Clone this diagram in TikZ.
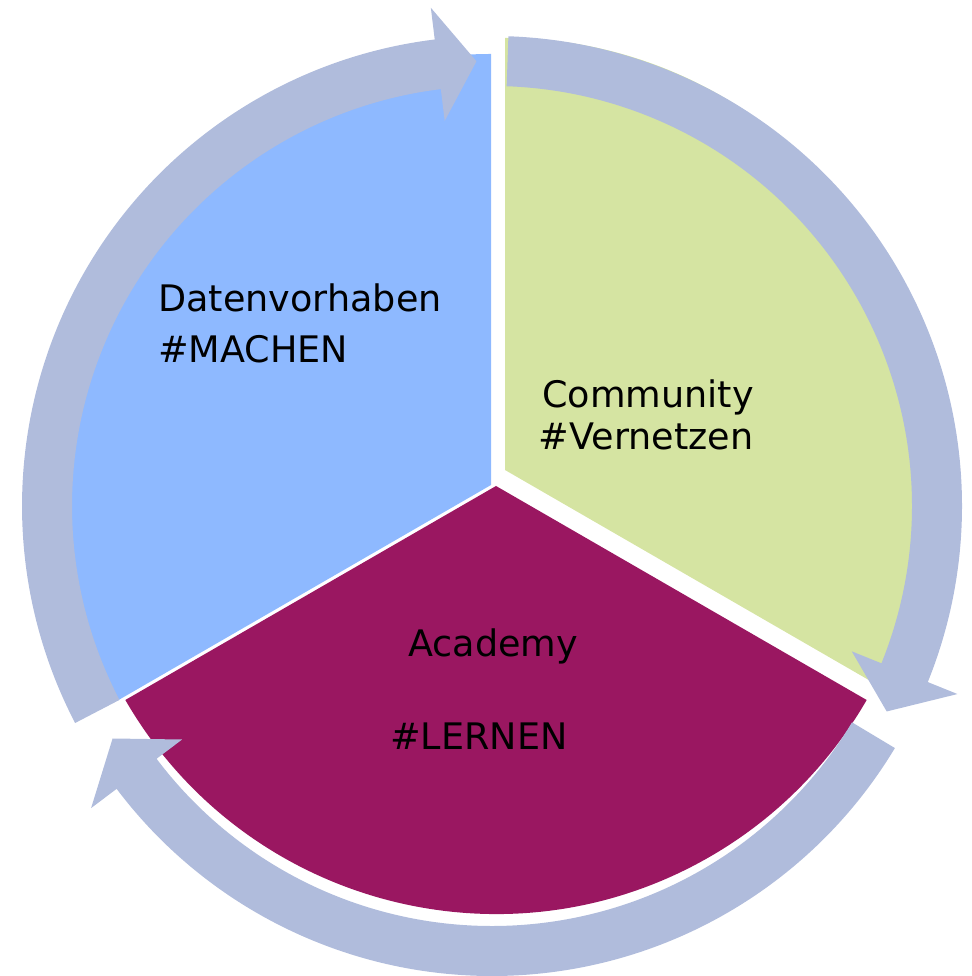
\documentclass[tikz,border=0pt]{standalone}
\usepackage{fontspec}
\setmainfont{DejaVu Sans}
\usepackage{xcolor}
\usepackage{tikz}
\definecolor{machenblue}{RGB}{142,185,255}
\definecolor{vernetzengreen}{RGB}{213,228,162}
\definecolor{lernenred}{RGB}{154,23,97}
\definecolor{ringblue}{RGB}{176,188,220}

\begin{document}
\begin{tikzpicture}[
			     x=0.02cm, y=0.02cm,
			     label text/.style={font=\fontsize{20.8}{25}\selectfont, text=black, inner sep=0pt},
			     cycle arrow/.style={fill=ringblue}
			     ]
\useasboundingbox (0,0) rectangle (971,976);
% sectors
\fill[machenblue] (491,491) -- ++(90:431) arc[start angle=90, end angle=210, radius=431] -- cycle;
\fill[lernenred] (496,490) -- ++(210:428) arc[start angle=210, end angle=330, radius=428] -- cycle;
\fill[vernetzengreen] (505,506) -- ++(90:432) arc[start angle=90, end angle=-30, radius=432] -- cycle;
% arrows
\begin{scope}[shift={(492,470)}]
\fill[cycle arrow] (207.5:470) arc[start angle=207.5, end angle=97, radius=470] -- (97:502) -- (92:445) -- (97:388) -- (97:420) arc[start angle=97, end angle=207.5, radius=420] -- cycle;
\fill[cycle arrow] (88:470) arc[start angle=88, end angle=-22, radius=470] -- (-22:502) -- (-27.5:445) -- (-22:388) -- (-22:420) arc[start angle=-22, end angle=88, radius=420] -- cycle;
\fill[cycle arrow] (329:470) arc[start angle=329, end angle=217, radius=470] -- (217:502) -- (211.5:445) -- (217:388) -- (217:420) arc[start angle=217, end angle=329, radius=420] -- cycle;
\end{scope}
% labels
\node[label text, anchor=base west] (daten) at (158,664) {Datenvorhaben};
\node[label text, anchor=base west] (machen) at (158,613) {\#MACHEN};
\node[label text, anchor=base] (community) at (648,568) {Community};
\node[label text, anchor=base] (vernetzen) at (646,526) {\#Vernetzen};
\node[label text, anchor=base west] (academy) at (408,319) {Academy};
\node[label text, anchor=base west] (lernen) at (390,226) {\#LERNEN};
\end{tikzpicture}
\end{document}
